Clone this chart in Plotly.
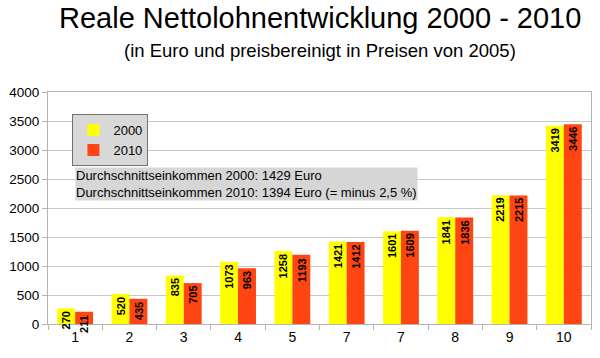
import plotly.graph_objects as go

categories = ["1", "2", "3", "4", "5", "7", "7", "8", "9", "10"]
values_2000 = [270, 520, 835, 1073, 1258, 1421, 1601, 1841, 2219, 3419]
values_2010 = [211, 435, 705, 963, 1193, 1412, 1609, 1836, 2215, 3446]
y_ticks = [0, 500, 1000, 1500, 2000, 2500, 3000, 3500, 4000]

FONT = "Liberation Sans, Arial, sans-serif"
YELLOW = "#ffff00"
RED = "#ff4512"
AXIS = "#b4b4b4"

xpos = list(range(len(categories)))

fig = go.Figure()
fig.add_trace(go.Bar(x=xpos, y=values_2000, name="2000", marker=dict(color=YELLOW, line=dict(width=0))))
fig.add_trace(go.Bar(x=xpos, y=values_2010, name="2010", marker=dict(color=RED, line=dict(width=0))))

annotations = []
for i, (a, b) in enumerate(zip(values_2000, values_2010)):
    for v, shift in ((a, -9), (b, 9)):
        annotations.append(dict(x=i, y=v, xref="x", yref="y", text="<b>%d</b>" % v, textangle=-90,
                                showarrow=False, xanchor="center", yanchor="top", xshift=shift, yshift=-1,
                                font=dict(family=FONT, size=11, color="black")))

annotations.append(dict(x=0.05, y=0.675, xref="paper", yref="paper", xanchor="left", yanchor="top",
                        align="left", showarrow=False, bgcolor="#d6d6d6", borderpad=0,
                        text="Durchschnittseinkommen 2000: 1429 Euro<br>Durchschnittseinkommen 2010: 1394 Euro (= minus 2,5 %)",
                        font=dict(family=FONT, size=13, color="black")))

annotations.append(dict(x=0.5, y=1.317, xref="paper", yref="paper", xanchor="center", yanchor="middle",
                        showarrow=False, text="Reale Nettolohnentwicklung 2000 - 2010",
                        font=dict(family=FONT, size=29, color="black")))
annotations.append(dict(x=0.5, y=1.178, xref="paper", yref="paper", xanchor="center", yanchor="middle",
                        showarrow=False, text="(in Euro und preisbereinigt in Preisen von 2005)",
                        font=dict(family=FONT, size=18.5, color="black")))

fig.update_layout(
    width=600, height=358,
    margin=dict(l=48, r=9, t=92, b=34),
    paper_bgcolor="white", plot_bgcolor="white",
    barmode="group", bargap=0.34, bargroupgap=0,
    font=dict(family=FONT, size=12, color="black"),
    showlegend=True,
    legend=dict(x=0.045, y=0.905, xanchor="left", yanchor="top", bgcolor="#d8d8d8",
                bordercolor="#707070", borderwidth=1, font=dict(family=FONT, size=13),
                itemwidth=30, tracegroupgap=0),
    annotations=annotations,
    xaxis=dict(tickmode="array", tickvals=xpos, ticktext=categories, range=[-0.5, 9.5],
               showgrid=False, ticks="", showline=True, linecolor=AXIS, mirror=True,
               tickfont=dict(family=FONT, size=14, color="black"),
               minor=dict(tickmode="array", tickvals=[i - 0.5 for i in range(11)], ticks="outside",
                          ticklen=5, tickcolor=AXIS, showgrid=False)),
    yaxis=dict(range=[0, 4000], tickvals=y_ticks, showgrid=True, gridcolor="#c8c8c8",
               showline=True, linecolor=AXIS, mirror=True, ticks="outside", ticklen=5, tickcolor=AXIS,
               zeroline=False, tickfont=dict(family=FONT, size=13.5, color="black")),
)

fig.write_html("out.html", config={"displayModeBar": False},
               post_script="document.body.style.margin='0';")
